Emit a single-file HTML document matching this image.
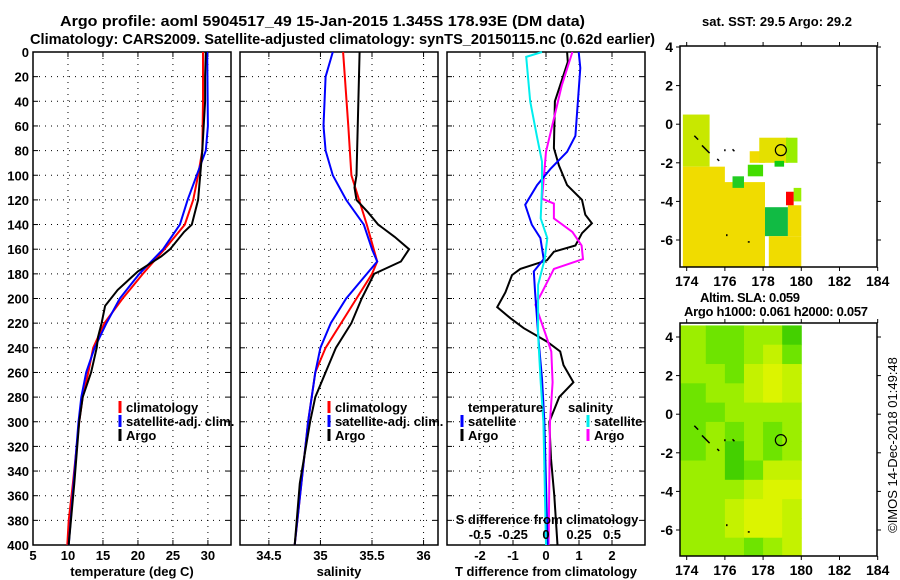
<!DOCTYPE html>
<html><head><meta charset="utf-8"><style>
html,body{margin:0;padding:0;background:#fff;}
svg{display:block;font-family:"Liberation Sans",Arial,sans-serif;font-weight:bold;}
</style></head><body>
<svg id="fig" width="900" height="580" viewBox="0 0 900 580" xmlns="http://www.w3.org/2000/svg">
<text x="60" y="26" font-size="15" textLength="525" lengthAdjust="spacingAndGlyphs">Argo profile: aoml 5904517_49 15-Jan-2015 1.345S 178.93E (DM data)</text>
<text x="30" y="44" font-size="15" textLength="625" lengthAdjust="spacingAndGlyphs">Climatology: CARS2009. Satellite-adjusted climatology: synTS_20150115.nc (0.62d earlier)</text>
<g id="layer"></g>
</svg>
<script>
// ---- data ----
const depthTA=[0,20,40,60,80,100,120,140,146,160,166,178,193,206,220,231,240,260,280,300,350,400];
const tempArgo=[29.7,29.6,29.6,29.4,29.2,28.9,28.6,27.7,26.6,24.6,23.3,20,17.1,15.3,14.8,14.3,14.1,13.3,12.1,11.6,10.9,10.1];
const depthTC=[0,40,80,100,120,140,160,180,200,220,240,260,280,300,350,380,400];
const tempClim=[29.3,29.3,29.2,28.6,27.9,26.7,23.8,20.7,17.8,15.2,13.6,12.9,12.1,11.6,10.7,10.1,9.9];
const depthTS=[0,60,80,100,120,140,160,180,200,220,240,260,280,300,350,400];
const tempSat=[29.9,30,29.7,28.4,27.1,26.0,23.6,20.2,17.4,15.5,13.8,12.6,11.9,11.5,10.8,10.1];
const depthSA=[0,100,110,120,130,140,150,160,170,180,200,220,240,260,280,300,350,400];
const salArgo=[35.38,35.35,35.33,35.35,35.46,35.56,35.72,35.86,35.78,35.52,35.4,35.3,35.15,35.05,34.95,34.9,34.8,34.75];
const depthSC=[0,60,100,140,170,180,200,220,240,260,300,400];
const salClim=[35.22,35.27,35.3,35.45,35.55,35.5,35.35,35.2,35.05,34.95,34.88,34.75];
const depthSS=[0,20,60,80,100,120,140,160,170,180,200,220,240,260,300,400];
const salSat=[35.12,35.05,35.03,35.05,35.12,35.25,35.42,35.5,35.55,35.45,35.25,35.1,35.0,34.95,34.88,34.75];
const depthD=[0,8,40,78,92,108,120,132,139,147,157,162,169,176,181,195,207,216,224,235,243,254,268,280,290,300,330,360,380,400];
const tDiffArgo=[0.64,0.66,0.27,0.24,0.39,0.64,1.09,1.19,1.39,1.09,0.89,0.24,0.03,-0.78,-1.03,-1.23,-1.48,-1.08,-0.68,0.03,0.43,0.53,0.83,0.4,0.25,0.1,0.15,0.25,0.3,0.35];
const depthDS=[0,13,68,81,95,108,124,140,151,168,178,195,235,265,300,350,400];
const tDiffSat=[0.99,1.04,0.89,0.64,0.13,-0.27,-0.63,-0.43,-0.17,-0.07,-0.37,-0.33,-0.22,-0.12,-0.05,0,0.05];
const depthSD=[0,4,40,68,89,110,135,151,168,189,230,268,300,400];
const sDiffSat=[-0.03,-0.15,-0.12,-0.07,-0.03,-0.03,-0.04,0.01,-0.01,-0.06,-0.06,-0.04,-0.02,0];
const depthSDA=[0,27,54,81,119,123,135,146,157,168,176,195,205,230,243,268,300,400];
const sDiffArgo=[0.2,0.12,0.06,0,-0.03,0.06,0.06,0.2,0.27,0.28,0.06,-0.03,-0.08,0,0.04,0.05,0.03,0.02];
const depthTicks=[0,20,40,60,80,100,120,140,160,180,200,220,240,260,280,300,320,340,360,380,400];
const tTicks=[5,10,15,20,25,30];
const sTicks=[34.5,35,35.5,36];
const dTicks=[-2,-1,0,1,2];
const sdTicks=[-0.5,-0.25,0,0.25,0.5];
// SLA field levels (1 deg cells, lon 174..180, lat top 4.6)
const slaLevels=[[2,1,1,2,2,0],[2,1,1,2,3,1],[2,2,1,3,4,3],[1,2,2,3,4,3],[1,1,2,2,2,2],[1,2,1,2,1,2],[1,2,0,2,1,2],[2,2,0,1,3,3],[2,2,2,3,4,4],[2,2,3,4,4,3],[2,2,3,4,4,3],[2,2,2,1,2,3]];
const slaColors=['#44d000','#6ee400','#9cee00','#c4f200','#dcf400'];
// SST patches: lon1,lon2,latTop,latBottom,color
const sstPatches=[[173.8,175.2,0.5,-2.2,'#c8e800'],[173.8,176,-2.2,-7.4,'#f0dc00'],[175.8,178.1,-3.0,-7.4,'#f0dc00'],[176.4,177.0,-2.7,-3.3,'#22cc22'],[177.2,178.0,-2.1,-2.7,'#44dd00'],[177.3,178.1,-1.4,-2.0,'#f0dc00'],[177.8,179.3,-0.7,-2.0,'#e4e000'],[179.2,179.8,-0.7,-2.0,'#99ee00'],[178.6,179.1,-1.9,-2.2,'#11cc11'],[178.1,179.3,-4.3,-5.8,'#11bb44'],[178.3,180,-5.8,-7.4,'#f0dc00'],[179.3,180,-4.2,-5.8,'#f0dc00'],[179.6,180,-3.3,-4.0,'#99ee00'],[179.2,179.6,-3.5,-4.2,'#ff0000']];
const argoLon=178.93, argoLat=-1.345;

const NS='http://www.w3.org/2000/svg';
const L=document.getElementById('layer');
function mk(tag,attrs,parent){const e=document.createElementNS(NS,tag);for(const k in attrs)e.setAttribute(k,attrs[k]);(parent||L).appendChild(e);return e;}
function txt(x,y,s,size,anchor,parent){const t=mk('text',{x:x,y:y,'font-size':size,'text-anchor':anchor||'middle'},parent);t.textContent=s;return t;}

const top0=52,bot0=545;
const yD=d=>top0+(bot0-top0)*d/400;
const panels=[
 {x0:33,x1:231,v0:5,v1:33.3,name:'temperature-panel'},
 {x0:240,x1:438,v0:34.22,v1:36.14,name:'salinity-panel'},
 {x0:447,x1:645,v0:-3,v1:3,name:'t-difference-panel'}];
function sx(p,v){return p.x0+(v-p.v0)/(p.v1-p.v0)*(p.x1-p.x0);}

function drawPanel(p,ticks,fmt,xlabel,showY){
 const g=mk('g',{});
 
 
 depthTicks.forEach(d=>{mk('line',{x1:p.x0,x2:p.x1,y1:yD(d),y2:yD(d),stroke:'#000','stroke-width':1,'stroke-dasharray':'1,5'},g);
   mk('line',{x1:p.x0,x2:p.x0+5,y1:yD(d),y2:yD(d),stroke:'#000'},g);mk('line',{x1:p.x1,x2:p.x1-5,y1:yD(d),y2:yD(d),stroke:'#000'},g);
   if(showY){const t=txt(p.x0-4,yD(d)+5,String(d),13,'end',g);}});
 ticks.forEach(v=>{const x=sx(p,v);mk('line',{x1:x,x2:x,y1:top0,y2:bot0,stroke:'#000','stroke-width':1,'stroke-dasharray':'1,5'},g);
   mk('line',{x1:x,x2:x,y1:bot0,y2:bot0-5,stroke:'#000'},g);mk('line',{x1:x,x2:x,y1:top0,y2:top0+5,stroke:'#000'},g);
   const t=txt(x,bot0+15,fmt(v),13,'middle',g);});
 mk('rect',{x:p.x0,y:top0,width:p.x1-p.x0,height:bot0-top0,fill:'none',stroke:'#000','stroke-width':1.5},g);
 const xl=txt((p.x0+p.x1)/2,bot0+31,xlabel,13,'middle',g);
 
 return g;
}
function line(p,depths,vals,color,name,scale){
 const pts=depths.map((d,i)=>sx(p,vals[i]*(scale||1)).toFixed(1)+','+yD(d).toFixed(1)).join(' ');
 const e=mk('polyline',{points:pts,fill:'none',stroke:color,'stroke-width':2});
 
 
}
function legend(x,y,color,label,dx){
 if(color){const b=mk('line',{x1:x,x2:x,y1:y-11,y2:y+1,stroke:color,'stroke-width':3});
 }
 const t=txt(x+(dx||6),y,label,13,'start');
 
}
const [P1,P2,P3]=panels;
drawPanel(P1,tTicks,v=>String(v),'temperature (deg C)',true);
drawPanel(P2,sTicks,v=>String(v),'salinity',false);
drawPanel(P3,dTicks,v=>String(v),'T difference from climatology',false);

line(P1,depthTC,tempClim,'#f00','temp-climatology-line');
line(P1,depthTS,tempSat,'#00f','temp-satellite-line');
line(P1,depthTA,tempArgo,'#000','temp-argo-line');
line(P2,depthSC,salClim,'#f00','sal-climatology-line');
line(P2,depthSS,salSat,'#00f','sal-satellite-line');
line(P2,depthSA,salArgo,'#000','sal-argo-line');
line(P3,depthD,tDiffArgo,'#000','tdiff-argo-line');
line(P3,depthSDA,sDiffArgo,'#f0f','sdiff-argo-line',4);
line(P3,depthDS,tDiffSat,'#00f','tdiff-satellite-line');
line(P3,depthSD,sDiffSat,'#0ee','sdiff-satellite-line',4);

legend(120,412,'#f00','climatology');legend(120,426,'#00f','satellite-adj. clim.');legend(120,440,'#000','Argo');
legend(329,412,'#f00','climatology');legend(329,426,'#00f','satellite-adj. clim.');legend(329,440,'#000','Argo');
legend(462,412,null,'temperature',6);legend(462,426,'#00f','satellite');legend(462,440,'#000','Argo');
legend(588,412,null,'salinity',-20);legend(588,426,'#0ee','satellite');legend(588,440,'#f0f','Argo');
const st=txt(547,524,'S difference from climatology',13,'middle');

sdTicks.forEach(v=>{const t=txt(sx(P3,v*4),539,String(v),13,'middle');
 });

// ---- maps ----
function mapAxes(m){
 const g=mk('g',{});
 
 m.g=g;return g;
}
function lonX(m,lon){return m.x0+(lon-m.lon0)*m.kx;}
function latY(m,lat){return m.yLat4+(4-lat)*m.ky;}
function finishMap(m){
 const g=m.g;
 mk('rect',{x:m.x0,y:m.y0,width:m.x1-m.x0,height:m.y1-m.y0,fill:'none',stroke:'#000','stroke-width':1.5},g);
 [174,176,178,180,182,184].forEach(l=>{const x=lonX(m,l);mk('line',{x1:x,x2:x,y1:m.y1,y2:m.y1+4,stroke:'#000'},g);mk('line',{x1:x,x2:x,y1:m.y0,y2:m.y0-4,stroke:'#000'},g);
  const t=txt(x,m.y1+19,String(l),14,'middle',g);});
 [4,2,0,-2,-4,-6].forEach(l=>{const y=latY(m,l);mk('line',{x1:m.x0,x2:m.x0-4,y1:y,y2:y,stroke:'#000'},g);mk('line',{x1:m.x1,x2:m.x1+4,y1:y,y2:y,stroke:'#000'},g);
  const t=txt(m.x0-7,y+5,String(l),14,'end',g);});
 const c=mk('circle',{cx:lonX(m,argoLon),cy:latY(m,argoLat),r:5.5,fill:'none',stroke:'#000','stroke-width':1.2},g);
 
 [[174.4,-0.6,174.6,-0.8],[174.8,-1.1,175.2,-1.5],[175.6,-1.8,175.7,-1.9],[176.0,-1.3,176.0,-1.4],[176.4,-1.3,176.5,-1.4],[176.1,-5.7,176.1,-5.8],[177.2,-6.1,177.3,-6.1]].forEach(s=>{
  mk('line',{x1:lonX(m,s[0]),y1:latY(m,s[1]),x2:lonX(m,s[2]),y2:latY(m,s[3]),stroke:'#000','stroke-width':1.5},g);});
}
const M1={name:'sst-map',x0:680,x1:877,y0:46,y1:267,lon0:173.65,kx:19.1,yLat4:47,ky:19.3};
const M2={name:'sla-map',x0:680,x1:877,y0:323,y1:556,lon0:173.65,kx:19.1,yLat4:337,ky:19.3};
mapAxes(M1);
sstPatches.forEach(p=>{const r=mk('rect',{x:lonX(M1,p[0]),y:latY(M1,p[2]),width:(p[1]-p[0])*M1.kx,height:Math.min((p[2]-p[3])*M1.ky,M1.y1-latY(M1,p[2])),fill:p[4]},M1.g);
 });
finishMap(M1);
mapAxes(M2);
slaLevels.forEach((row,i)=>row.forEach((lv,j)=>{
 const x=lonX(M2,174+j)-(j===0?(174-173.65)*M2.kx:0);
 const w=M2.kx+(j===0?(174-173.65)*M2.kx:0);
 const y=latY(M2,4.6-i);const h=Math.min(M2.ky,M2.y1-y);
 const r=mk('rect',{x:x,y:Math.max(y,M2.y0),width:w+0.5,height:h+0.5,fill:slaColors[lv]},M2.g);
 }));
finishMap(M2);
const m1t=txt(702,26,'sat. SST: 29.5 Argo: 29.2',13,'start');m1t.setAttribute('textLength','150');
const m2a=txt(700,302,'Altim. SLA: 0.059',13,'start');m2a.setAttribute('textLength','100');
const m2b=txt(684,316,'Argo h1000: 0.061 h2000: 0.057',13,'start');m2b.setAttribute('textLength','184');
const cr=txt(0,0,'©IMOS 14-Dec-2018 01:49:48',13,'middle');
cr.setAttribute('transform','translate(897,445) rotate(-90)');cr.setAttribute('font-weight','normal');

</script>
</body></html>
